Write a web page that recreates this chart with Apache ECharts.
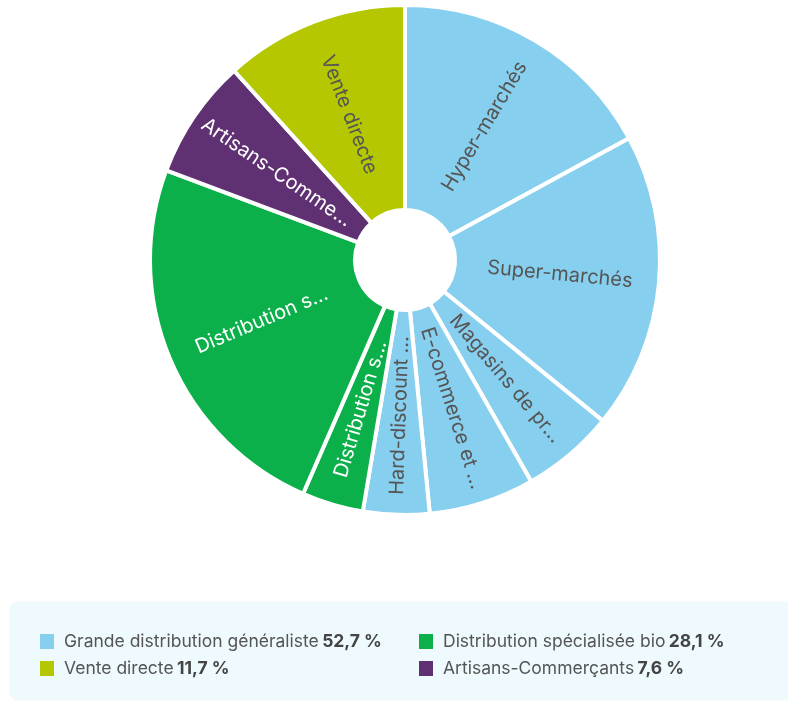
<!DOCTYPE html>
<html>
<head>
<meta charset="utf-8">
<script src="https://cdn.jsdelivr.net/npm/echarts@6/dist/echarts.min.js"></script>
<style>
  html, body { margin: 0; padding: 0; background: #fff; }
  #chart { width: 788px; height: 704px; }
</style>
</head>
<body>
<div id="chart"></div>
<script>
// slices, clockwise from 12 o'clock
const sliceNames = [
  'Hyper-marchés', 'Super-marchés', 'Magasins de proximité', 'E-commerce et drive',
  'Hard-discount', 'Distribution spécialisée (magasins)', 'Distribution spécialisée bio',
  'Artisans-Commerçants', 'Vente directe'
];
const sliceLabels = [
  'Hyper-marchés', 'Super-marchés', 'Magasins de pr...', 'E-commerce et ...',
  'Hard-discount ...', 'Distribution s...', 'Distribution s...', 'Artisans-Comme...', 'Vente directe'
];
const sliceValues = [17.1, 18.8, 5.9, 6.7, 4.2, 3.9, 24.2, 7.6, 11.7];
const sliceGroup = [0, 0, 0, 0, 0, 1, 1, 3, 2];

// legend groups
const groupNames = ['Grande distribution généraliste', 'Distribution spécialisée bio', 'Vente directe', 'Artisans-Commerçants'];
const groupShares = ['52,7 %', '28,1 %', '11,7 %', '7,6 %'];

const groupColors = ['#87cfee', '#0cb04b', '#b4c700', '#5f3072'];
const groupTextColors = ['#555', '#fff', '#555', '#fff'];

const FONT = 'Inter';

const chart = echarts.init(document.getElementById('chart'));

const legendGraphics = groupNames.map((name, i) => {
  const col = i % 2, row = Math.floor(i / 2);
  const x = col === 0 ? 40 : 419;
  const y = row === 0 ? 633 : 660;
  return {
    type: 'group',
    left: x,
    top: y,
    children: [
      { type: 'rect', shape: { x: 0, y: 0, width: 14, height: 15 }, style: { fill: groupColors[i] } },
      {
        type: 'text', x: 24, y: 8,
        style: {
          text: '{n|' + name + '} {v|' + groupShares[i] + '}',
          verticalAlign: 'middle',
          rich: {
            n: { fontFamily: FONT, fontSize: 17.5, fill: '#555', color: '#555' },
            v: { fontFamily: FONT, fontSize: 17.5, fontWeight: 'bold', fill: '#444', color: '#444' }
          }
        }
      }
    ]
  };
});

chart.setOption({
  animation: false,
  graphic: [
    {
      type: 'rect', left: 10, top: 602,
      shape: { width: 800, height: 98, r: 8 },
      style: { fill: '#eefafd', shadowBlur: 2, shadowColor: 'rgba(0,0,0,0.08)' },
      z: 0
    }
  ].concat(legendGraphics),
  series: [{
    type: 'pie',
    center: [405, 260],
    radius: [50, 255],
    startAngle: 90,
    clockwise: true,
    silent: true,
    itemStyle: { borderColor: '#fff', borderWidth: 4 },
    label: {
      show: true,
      position: 'inside',
      rotate: 'radial',
      fontFamily: FONT,
      fontSize: 20,
      formatter: p => sliceLabels[p.dataIndex]
    },
    labelLine: { show: false },
    data: sliceNames.map((n, i) => ({
      name: n,
      value: sliceValues[i],
      itemStyle: { color: groupColors[sliceGroup[i]] },
      label: { color: groupTextColors[sliceGroup[i]] }
    }))
  }]
});
</script>
</body>
</html>
